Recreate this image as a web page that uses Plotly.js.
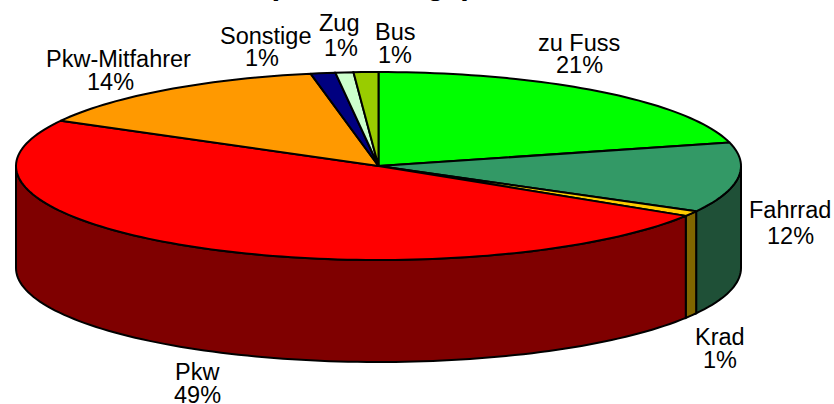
<!DOCTYPE html>
<html>
<head>
<meta charset="utf-8">
<script src="https://cdn.plot.ly/plotly-3.0.1.min.js"></script>
<style>html,body{margin:0;padding:0;background:#fff;overflow:hidden}</style>
</head>
<body>
<div id="chart" style="width:834px;height:404px"></div>
<script>
// Data (clockwise from 12 o'clock)
const categories = ["zu Fuss", "Fahrrad", "Krad", "Pkw", "Pkw-Mitfahrer", "Sonstige", "Zug", "Bus"];
const shares = [21.0, 12.0, 0.9, 49.1, 14.0, 1.1, 0.8, 1.1];
const topColors = ["#00FF00", "#339966", "#FFCC00", "#FF0000", "#FF9900", "#000080", "#CCFFCC", "#99CC00"];
const sideColors = ["#008000", "#1F5037", "#806600", "#7F0000", "#804C00", "#000040", "#668066", "#4C6600"];
const titleText = "(Wochentage)";

// Layout of the drawing
const cx = 378.5, cy = 166, rx = 362.5, ry = 94, depth = 102;
const nameCenters = [579, 790, 720, 197, 118.5, 265, 339, 395];
const nameBaselines = [51, 218, 345, 380, 67, 44, 31, 40];
const pctCenters = [579, 790, 720, 197, 110.5, 262, 341, 395];
const pctBaselines = [73, 244, 368, 403, 90, 66, 56, 63];
const fontSize = 23.5, baselineShift = 8;
const font = {family: '"Liberation Sans", Arial, sans-serif', size: fontSize, color: "#000"};

const total = shares.reduce((s, v) => s + v, 0);
const px = t => cx + rx * Math.sin(t * Math.PI / 180);
const py = t => cy - ry * Math.cos(t * Math.PI / 180);
function arc(a, b) {
  const out = [], n = Math.max(2, Math.ceil((b - a) / 1.5));
  for (let i = 0; i <= n; i++) out.push(a + (b - a) * i / n);
  return out;
}

const traces = [];
const bounds = [];
let acc = 0;
shares.forEach(v => { const s = acc; acc += v / total * 360; bounds.push([s, acc]); });

// side walls (visible front half only)
bounds.forEach(([a, b], i) => {
  const lo = Math.max(a, 90), hi = Math.min(b, 270);
  if (hi <= lo) return;
  const ts = arc(lo, hi);
  const xs = ts.map(px).concat(ts.slice().reverse().map(px), [px(lo)]);
  const ys = ts.map(py).concat(ts.slice().reverse().map(t => py(t) + depth), [py(lo)]);
  traces.push({x: xs, y: ys, mode: "lines", fill: "toself", fillcolor: sideColors[i],
    line: {color: "#000", width: 2, simplify: false}, hoverinfo: "skip", name: categories[i] + " Seite"});
});
// top slices
bounds.forEach(([a, b], i) => {
  const ts = arc(a, b);
  traces.push({x: [cx].concat(ts.map(px), [cx]), y: [cy].concat(ts.map(py), [cy]), mode: "lines",
    fill: "toself", fillcolor: topColors[i], line: {color: "#000", width: 2, simplify: false},
    hoverinfo: "skip", name: categories[i]});
});

const annotations = [];
categories.forEach((c, i) => {
  annotations.push({xref: "x", yref: "y", x: nameCenters[i], y: nameBaselines[i] - baselineShift,
    text: c, showarrow: false, xanchor: "center", yanchor: "middle", font: font, borderpad: 0});
  annotations.push({xref: "x", yref: "y", x: pctCenters[i], y: pctBaselines[i] - baselineShift,
    text: Math.round(shares[i]) + "%", showarrow: false, xanchor: "center", yanchor: "middle", font: font, borderpad: 0});
});
annotations.push({xref: "x", yref: "paper", x: 370, y: 1.042, text: "<b>" + titleText + "</b>", showarrow: false,
  xanchor: "center", yanchor: "middle", borderpad: 0,
  font: {family: '"Liberation Sans", Arial, sans-serif', size: 31, color: "#000"}});

Plotly.newPlot("chart", traces, {
  width: 834, height: 404, margin: {l: 0, r: 0, t: 0, b: 0},
  paper_bgcolor: "#fff", plot_bgcolor: "#fff", showlegend: false,
  xaxis: {range: [0, 834], visible: false, fixedrange: true},
  yaxis: {range: [404, 0], visible: false, fixedrange: true},
  annotations: annotations
}, {displayModeBar: false, staticPlot: true});
</script>
</body>
</html>
